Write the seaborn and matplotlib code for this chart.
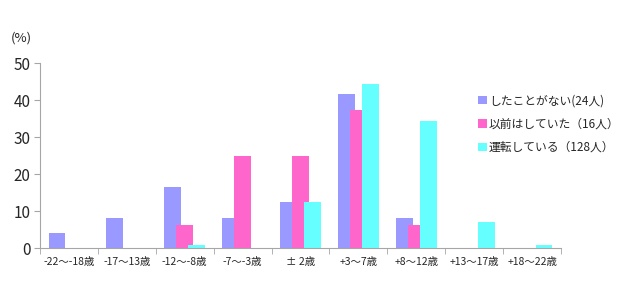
import matplotlib
matplotlib.use("Agg")
import matplotlib.pyplot as plt
import seaborn as sns
import pandas as pd
from matplotlib.ticker import FixedLocator

categories = ["-22〜-18歳", "-17〜13歳", "-12〜-8歳", "-7〜-3歳", "± 2歳",
              "+3〜7歳", "+8〜12歳", "+13〜17歳", "+18〜22歳"]
series_names = ["したことがない(24人)", "以前はしていた（16人）", "運転している（128人）"]
never = [4.2, 8.3, 16.7, 8.3, 12.5, 41.7, 8.3, 0, 0]
before = [0, 0, 6.25, 25, 25, 37.5, 6.25, 0, 0]
driving = [0, 0, 0.8, 0, 12.5, 44.5, 34.4, 7.0, 0.8]
colors = ["#9999FF", "#FF66CC", "#66FFFF"]

rows = []
for name, vals in zip(series_names, [never, before, driving]):
    for c, v in zip(categories, vals):
        rows.append({"cat": c, "series": name, "value": v})
df = pd.DataFrame(rows)

sns.set_style("white")
plt.rcParams["font.family"] = ["Noto Sans CJK JP", "DejaVu Sans"]

fig = plt.figure(figsize=(6.21, 2.98), dpi=100)
ax = fig.add_axes([0.0644, 0.1668, 0.839, 0.6208])

sns.barplot(data=df, x="cat", y="value", hue="series", order=categories,
            hue_order=series_names, palette=colors, width=0.62, saturation=1,
            errorbar=None, ax=ax, linewidth=0)

# widen bars so they overlap like the reference
bw = 0.29
for p in ax.patches:
    if p.get_height() is None:
        continue
    cx = p.get_x() + p.get_width() / 2
    p.set_x(cx - bw / 2)
    p.set_width(bw)

ax.set_ylim(0, 50)
ax.set_xlim(-0.5, len(categories) - 0.5)
ax.set_yticks([0, 10, 20, 30, 40, 50])
ax.set_xlabel("")
ax.set_ylabel("")
for s in ["top", "right"]:
    ax.spines[s].set_visible(False)
for s in ["left", "bottom"]:
    ax.spines[s].set_color("#A6A6A6")
    ax.spines[s].set_linewidth(0.8)

ax.tick_params(axis="y", which="major", length=4, color="#A6A6A6", direction="out",
               labelsize=11, pad=3, left=True)
ax.tick_params(axis="x", which="major", length=0, labelsize=7.5, pad=6)
ax.xaxis.set_minor_locator(FixedLocator([i - 0.5 for i in range(len(categories) + 1)]))
ax.tick_params(axis="x", which="minor", length=4, color="#A6A6A6", direction="out", bottom=True)

fig.text(0.018, 0.872, "(%)", fontsize=9.5, ha="left", va="center")

leg = ax.legend(loc="upper left", bbox_to_anchor=(0.8415, 0.833), frameon=False,
                fontsize=8.5, handlelength=0.7, handleheight=0.7, handletextpad=0.2,
                labelspacing=0.88, borderaxespad=0, borderpad=0)

fig.savefig("out.png", dpi=100)
